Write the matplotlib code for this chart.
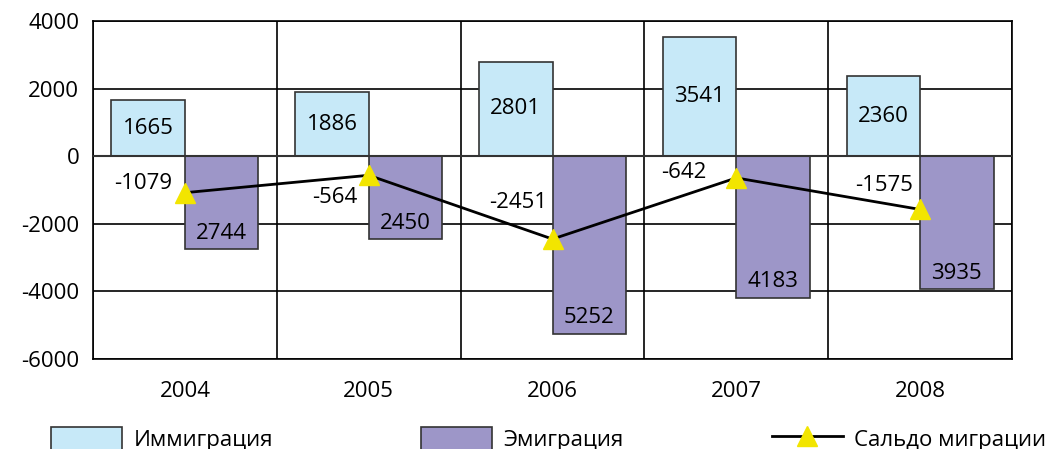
import matplotlib.pyplot as plt
import numpy as np

plt.rcParams['font.family'] = ['Open Sans', 'DejaVu Sans']
plt.rcParams['axes.unicode_minus'] = False

years = ["2004", "2005", "2006", "2007", "2008"]
immigration = [1665, 1886, 2801, 3541, 2360]
emigration = [2744, 2450, 5252, 4183, 3935]
net_migration = [-1079, -564, -2451, -642, -1575]

# where the net labels sit relative to the marker, in pixels (placed by hand in the original)
net_label_dx = [-42, -34, -34, -52, -36]
net_label_dy = [9, -22, 37, 5, 24]

imm_color = "#C7E9F8"
emi_color = "#9D96C8"
edge = "#333333"

fig = plt.figure(figsize=(10.55, 4.49), dpi=100)
ax = fig.add_axes([0.0882, 0.2004, 0.871, 0.7528])

x = np.arange(len(years))
w = 0.4
emi_neg = [-v for v in emigration]

b1 = ax.bar(x - w / 2, immigration, w, color=imm_color, edgecolor=edge, linewidth=1.2,
            label="Иммиграция", zorder=3)
b2 = ax.bar(x + w / 2, emi_neg, w, color=emi_color, edgecolor=edge, linewidth=1.2,
            label="Эмиграция", zorder=3)
line, = ax.plot(x, net_migration, color="black", lw=2, marker="^", markersize=15,
                markerfacecolor="#F2E500", markeredgecolor="#F2E500",
                label="Сальдо миграции", zorder=5)

# value labels
for i in range(len(years)):
    ax.text(x[i] - w / 2, immigration[i] / 2, str(immigration[i]), ha="center", va="center",
            fontsize=16, zorder=6)
    ax.text(x[i] + w / 2, emi_neg[i] + 470, str(emigration[i]), ha="center", va="center",
            fontsize=16, zorder=6)
    ax.annotate(str(net_migration[i]), (x[i], net_migration[i]),
                xytext=(net_label_dx[i], net_label_dy[i]), textcoords="offset pixels",
                ha="center", va="center", fontsize=16, zorder=6)

ax.set_xlim(-0.5, len(years) - 0.5)
ax.set_ylim(-6000, 4000)
ax.set_yticks(range(-6000, 4001, 2000))
ax.set_xticks(x)
ax.set_xticklabels(years)
ax.tick_params(axis="both", length=0, labelsize=16)
ax.tick_params(axis="x", pad=16)
ax.tick_params(axis="y", pad=10)

# grid: horizontal at ticks, vertical between categories
for yv in range(-6000, 4001, 2000):
    ax.axhline(yv, color="black", lw=1.2, zorder=1)
for xv in np.arange(-0.5, len(years), 1.0):
    ax.axvline(xv, color="black", lw=1.2, zorder=1)
ax.axhline(0, color="#333333", lw=1.5, zorder=4)
for s in ax.spines.values():
    s.set_linewidth(1.2)

# legend runs off the bottom edge, as in the original
fig.legend(handles=[b1, b2, line], loc="lower left", ncol=3, mode="expand",
           bbox_to_anchor=(0.04, -0.024, 0.96, 0.1), frameon=False, fontsize=16,
           handlelength=3.2, handleheight=1.2, handletextpad=0.5, borderaxespad=0)

fig.savefig("out.png", dpi=100)
